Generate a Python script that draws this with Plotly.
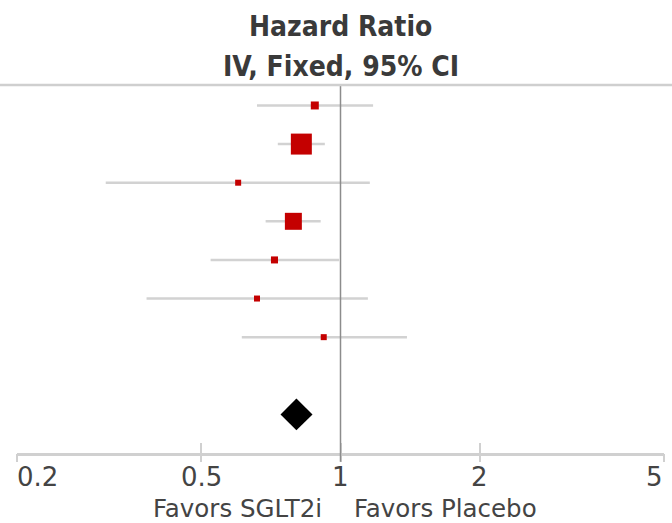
import math
import plotly.graph_objects as go

# ---- data ----
rows = [1, 2, 3, 4, 5, 6, 7]
hazard_ratio = [0.880, 0.823, 0.601, 0.791, 0.720, 0.660, 0.920]
ci_low = [0.660, 0.732, 0.311, 0.689, 0.524, 0.381, 0.612]
ci_high = [1.176, 0.925, 1.157, 0.906, 0.993, 1.146, 1.392]
weight_pct = [6.7, 46.4, 3.8, 30.4, 5.2, 3.8, 3.8]

pooled_row = 9
pooled_hr = 0.803
pooled_low = 0.742
pooled_high = 0.870

tick_vals = [0.2, 0.5, 1, 2, 5]
tick_labels = ["0.2", "0.5", "1", "2", "5"]
title_lines = ["Hazard Ratio", "IV, Fixed, 95% CI"]
favors_left = "Favors SGLT2i"
favors_right = "Favors Placebo"

# ---- styling ----
TITLE_FONT = "DejaVu Sans Condensed, DejaVu Sans, sans-serif"
FONT = "DejaVu Sans, sans-serif"
RED = "#c40000"
BAR = "#d2d2d2"
AXIS = "#d0d0d0"
TEXT = "#3a3a3a"

sizes = [3.08 * math.sqrt(w) for w in weight_pct]

fig = go.Figure()

fig.add_trace(go.Scatter(
    x=hazard_ratio, y=rows, mode="markers",
    marker=dict(symbol="square", size=sizes, color=RED, opacity=1, line=dict(width=0)),
    error_x=dict(type="data", symmetric=False,
                 array=[h - m for h, m in zip(ci_high, hazard_ratio)],
                 arrayminus=[m - l for m, l in zip(hazard_ratio, ci_low)],
                 color=BAR, thickness=2.5, width=0),
    showlegend=False, hoverinfo="skip",
))

dh = 0.41
fig.add_trace(go.Scatter(
    x=[pooled_low, pooled_hr, pooled_high, pooled_hr, pooled_low],
    y=[pooled_row, pooled_row - dh, pooled_row, pooled_row + dh, pooled_row],
    mode="lines", fill="toself", fillcolor="black",
    line=dict(width=0, color="black"),
    showlegend=False, hoverinfo="skip",
))

W, H = 672, 523
ml, mr, mt, mb = 17, 8, 85, 70
pw = W - ml - mr

fig.update_layout(
    width=W, height=H,
    margin=dict(l=ml, r=mr, t=mt, b=mb),
    paper_bgcolor="white", plot_bgcolor="white",
    xaxis=dict(type="log", range=[math.log10(0.2), math.log10(5)],
               tickvals=tick_vals, showticklabels=False,
               ticks="inside", ticklen=10, tickwidth=2, tickcolor=AXIS,
               showline=True, linecolor=AXIS, linewidth=2.5,
               showgrid=False, zeroline=False),
    xaxis2=dict(type="log", range=[math.log10(0.2), math.log10(5)],
                overlaying="x", anchor="y", side="bottom",
                tickvals=tick_vals, showticklabels=False,
                ticks="outside", ticklen=8, tickwidth=2, tickcolor=AXIS,
                showline=False, showgrid=False, zeroline=False),
    yaxis=dict(range=[10, 0.47], visible=False),
    showlegend=False,
)
# invisible trace so that xaxis2 is drawn
fig.add_trace(go.Scatter(x=[1], y=[pooled_row], xaxis="x2", mode="markers",
                         marker=dict(opacity=0), showlegend=False, hoverinfo="skip"))

# reference line at HR = 1
fig.add_shape(type="line", xref="x", yref="paper", x0=1, x1=1, y0=-0.024, y1=1,
              line=dict(color="#8c8c8c", width=1.5), layer="above")
# header separator line
fig.add_shape(type="line", xref="paper", yref="paper",
              x0=-ml / pw, x1=1 + mr / pw, y0=1, y1=1,
              line=dict(color="#cfcfcf", width=2.5))

# title lines
fig.add_annotation(text=title_lines[0], xref="x", yref="paper", x=0, y=1,
                   xanchor="center", yanchor="middle", yshift=59, showarrow=False,
                   font=dict(family=TITLE_FONT, size=28, color=TEXT, weight="bold"))
fig.add_annotation(text=title_lines[1], xref="x", yref="paper", x=0, y=1,
                   xanchor="center", yanchor="middle", yshift=19, showarrow=False,
                   font=dict(family=TITLE_FONT, size=28, color=TEXT, weight="bold"))

# tick labels
for v, t in zip(tick_vals, tick_labels):
    if v == tick_vals[0]:
        xa, xs = "left", -2
    elif v == tick_vals[-1]:
        xa, xs = "right", 1
    else:
        xa, xs = "center", 0
    fig.add_annotation(text=t, xref="x", yref="paper", x=math.log10(v), y=0,
                       xanchor=xa, yanchor="middle", xshift=xs, yshift=-24,
                       showarrow=False,
                       font=dict(family=FONT, size=26, color="#444444"))

# favours labels
fig.add_annotation(text=favors_left, xref="x", yref="paper", x=0, y=0,
                   xanchor="right", yanchor="middle", xshift=-17, yshift=-55,
                   showarrow=False, font=dict(family=FONT, size=24.5, color="#444444"))
fig.add_annotation(text=favors_right, xref="x", yref="paper", x=0, y=0,
                   xanchor="left", yanchor="middle", xshift=11, yshift=-55,
                   showarrow=False, font=dict(family=FONT, size=24.5, color="#444444"))

fig.write_html("out.html")
